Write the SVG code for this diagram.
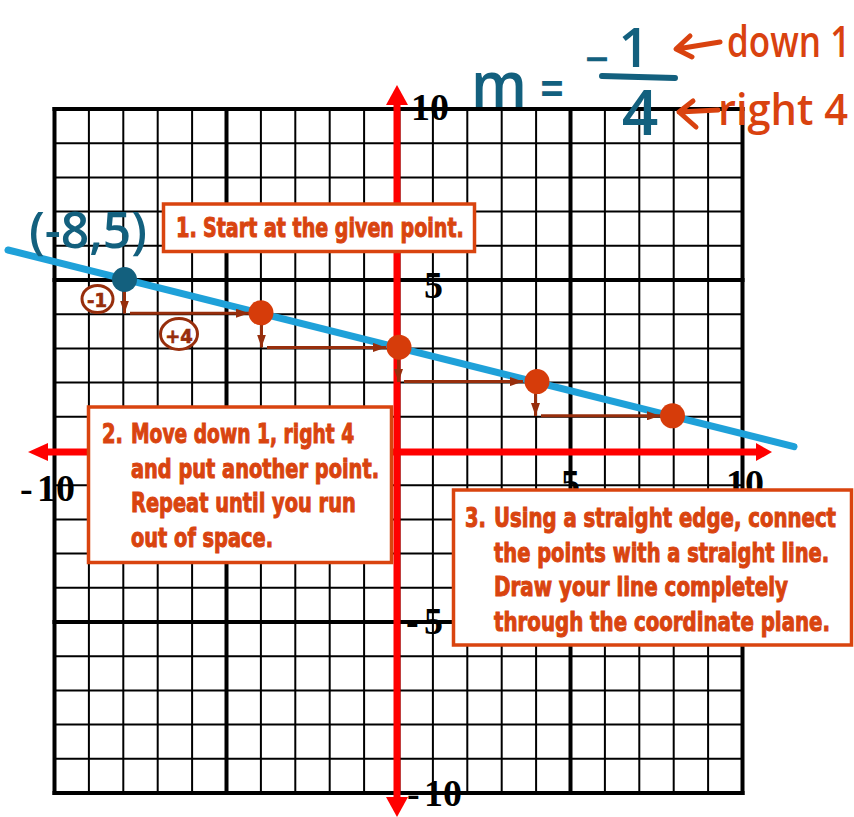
<svg xmlns="http://www.w3.org/2000/svg" width="854" height="817" viewBox="0 0 854 817">
<defs>
<style>
.thin{stroke:#000;stroke-width:2}
.thick{stroke:#000;stroke-width:4}
.ax{stroke:#ff0000;stroke-width:7;fill:none}
.axh{fill:#ff0000}
.num{font-family:"Liberation Serif","Times New Roman",serif;font-weight:bold;font-size:38px;fill:#000}
.step{stroke:#972e0c;stroke-width:3;fill:none}
.lbl{fill:#fff;stroke:#972e0c;stroke-width:3}
.lbltxt{font-family:"DejaVu Sans Condensed","DejaVu Sans",sans-serif;font-weight:bold;font-size:20px;fill:#972e0c;stroke:#972e0c;stroke-width:0.6;text-anchor:middle}
.pt{fill:#d63c0a}
.box{fill:#fff;stroke:#d9440f;stroke-width:3.5}
.bt{font-family:"DejaVu Sans Condensed","DejaVu Sans",sans-serif;font-weight:bold;font-size:27px;fill:#d9440f;stroke:#d9440f;stroke-width:1}
.hb{font-family:"Open Sans","Noto Sans",sans-serif;font-weight:600;fill:#13607e}
.ho{font-family:"Open Sans","Noto Sans",sans-serif;font-weight:600;fill:#d9420f}
</style>
<marker id="ah" viewBox="0 0 13 9" refX="13" refY="4.5" markerWidth="13" markerHeight="9" markerUnits="userSpaceOnUse" orient="auto">
<path d="M0,0 L13,4.5 L0,9 z" fill="#972e0c"/>
</marker>
</defs>
<rect width="854" height="817" fill="#fff"/>

<g id="grid">
<g class="thin">
<line x1="88.9" y1="107" x2="88.9" y2="793"/><line x1="123.3" y1="107" x2="123.3" y2="793"/><line x1="157.7" y1="107" x2="157.7" y2="793"/><line x1="192.1" y1="107" x2="192.1" y2="793"/>
<line x1="260.9" y1="107" x2="260.9" y2="793"/><line x1="295.3" y1="107" x2="295.3" y2="793"/><line x1="329.7" y1="107" x2="329.7" y2="793"/><line x1="364.1" y1="107" x2="364.1" y2="793"/>
<line x1="432.9" y1="107" x2="432.9" y2="793"/><line x1="467.3" y1="107" x2="467.3" y2="793"/><line x1="501.7" y1="107" x2="501.7" y2="793"/><line x1="536.1" y1="107" x2="536.1" y2="793"/>
<line x1="604.9" y1="107" x2="604.9" y2="793"/><line x1="639.3" y1="107" x2="639.3" y2="793"/><line x1="673.7" y1="107" x2="673.7" y2="793"/><line x1="708.1" y1="107" x2="708.1" y2="793"/>
<line x1="54.5" y1="143.2" x2="742.5" y2="143.2"/><line x1="54.5" y1="177.4" x2="742.5" y2="177.4"/><line x1="54.5" y1="211.6" x2="742.5" y2="211.6"/><line x1="54.5" y1="245.8" x2="742.5" y2="245.8"/>
<line x1="54.5" y1="314.2" x2="742.5" y2="314.2"/><line x1="54.5" y1="348.4" x2="742.5" y2="348.4"/><line x1="54.5" y1="382.6" x2="742.5" y2="382.6"/><line x1="54.5" y1="416.8" x2="742.5" y2="416.8"/>
<line x1="54.5" y1="485.2" x2="742.5" y2="485.2"/><line x1="54.5" y1="519.4" x2="742.5" y2="519.4"/><line x1="54.5" y1="553.6" x2="742.5" y2="553.6"/><line x1="54.5" y1="587.8" x2="742.5" y2="587.8"/>
<line x1="54.5" y1="656.2" x2="742.5" y2="656.2"/><line x1="54.5" y1="690.4" x2="742.5" y2="690.4"/><line x1="54.5" y1="724.6" x2="742.5" y2="724.6"/><line x1="54.5" y1="758.8" x2="742.5" y2="758.8"/>
</g>
<g class="thick">
<line x1="54.5" y1="107" x2="54.5" y2="795"/><line x1="226.5" y1="107" x2="226.5" y2="795"/><line x1="398.5" y1="107" x2="398.5" y2="795"/><line x1="570.5" y1="107" x2="570.5" y2="795"/><line x1="742.5" y1="107" x2="742.5" y2="795"/>
<line x1="52.5" y1="109" x2="744.5" y2="109"/><line x1="52.5" y1="280" x2="744.5" y2="280"/><line x1="52.5" y1="451" x2="744.5" y2="451"/><line x1="52.5" y1="622" x2="744.5" y2="622"/><line x1="52.5" y1="793" x2="744.5" y2="793"/>
</g>
</g>

<g id="axes">
<line class="ax" x1="397" y1="100" x2="397" y2="800"/>
<path class="axh" d="M397,85 L408,105 L386,105 z"/>
<path class="axh" d="M397,817 L408,797 L386,797 z"/>
<line class="ax" x1="44" y1="452" x2="760" y2="452"/>
<path class="axh" d="M28,452 L48,443 L48,461 z"/>
<path class="axh" d="M772,452 L756,443 L756,461 z"/>
</g>

<g id="axis-labels">
<text class="num" x="411" y="120">10</text>
<text class="num" x="424" y="298">5</text>
<text class="num"><tspan x="20" y="501">-</tspan><tspan x="37">10</tspan></text>
<text class="num" x="561" y="496">5</text>
<text class="num" x="726" y="496">10</text>
<text class="num"><tspan x="406" y="634">-</tspan><tspan x="424">5</tspan></text>
<text class="num"><tspan x="407" y="806">-</tspan><tspan x="424">10</tspan></text>
</g>

<g id="line">
<line x1="8" y1="250" x2="794" y2="446.7" stroke="#1fa1d9" stroke-width="7" stroke-linecap="round"/>
</g>

<g id="connectors">
<line class="step" x1="124.5" y1="291" x2="124.5" y2="313.5" marker-end="url(#ah)"/>
<line class="step" x1="130" y1="313.2" x2="249" y2="313.2" marker-end="url(#ah)"/>
<line class="step" x1="261.5" y1="325" x2="261.5" y2="347.5" marker-end="url(#ah)"/>
<line class="step" x1="267" y1="347.4" x2="386" y2="347.4" marker-end="url(#ah)"/>
<line class="step" x1="398.5" y1="359" x2="398.5" y2="382" marker-end="url(#ah)"/>
<line class="step" x1="404" y1="381.6" x2="523" y2="381.6" marker-end="url(#ah)"/>
<line class="step" x1="535.5" y1="393.5" x2="535.5" y2="416" marker-end="url(#ah)"/>
<line class="step" x1="541" y1="415.8" x2="660" y2="415.8" marker-end="url(#ah)"/>
</g>

<g id="step-labels">
<g id="label-minus1"><ellipse class="lbl" cx="97.5" cy="299" rx="15.5" ry="13.5"/><text class="lbltxt" x="97" y="306.5">-1</text></g>
<g id="label-plus4"><ellipse class="lbl" cx="179" cy="334" rx="18.5" ry="15.5"/><text class="lbltxt" x="179" y="343">+4</text></g>
</g>

<g id="points">
<circle id="p0" cx="124.5" cy="279.5" r="12.5" fill="#13607e"/>
<circle id="p1" class="pt" cx="261" cy="312.8" r="12.5"/>
<circle id="p2" class="pt" cx="399" cy="347.2" r="12.5"/>
<circle id="p3" class="pt" cx="537" cy="381.6" r="12.5"/>
<circle id="p4" class="pt" cx="672.5" cy="415.8" r="12.5"/>
</g>

<g id="box1">
<rect class="box" x="163.5" y="204" width="311" height="47.5"/>
<text class="bt" transform="translate(176,237) scale(0.8,1)">1.</text>
<text class="bt" transform="translate(203,237) scale(0.8,1)" textLength="326" lengthAdjust="spacingAndGlyphs">Start at the given point.</text>
</g>

<g id="box2">
<rect class="box" x="88.5" y="407" width="303" height="155.5"/>
<text class="bt" transform="translate(102,443) scale(0.8,1)">2.</text>
<text class="bt" transform="translate(131,443) scale(0.8,1)" textLength="279" lengthAdjust="spacingAndGlyphs">Move down 1, right 4</text>
<text class="bt" transform="translate(131,477.5) scale(0.8,1)" textLength="310" lengthAdjust="spacingAndGlyphs">and put another point.</text>
<text class="bt" transform="translate(131,512) scale(0.8,1)" textLength="281" lengthAdjust="spacingAndGlyphs">Repeat until you run</text>
<text class="bt" transform="translate(131,546.5) scale(0.8,1)" textLength="177.5" lengthAdjust="spacingAndGlyphs">out of space.</text>
</g>

<g id="box3">
<rect class="box" x="453.5" y="490" width="398" height="155"/>
<text class="bt" transform="translate(465,527) scale(0.8,1)">3.</text>
<text class="bt" transform="translate(494,527) scale(0.8,1)" textLength="427.5" lengthAdjust="spacingAndGlyphs">Using a straight edge, connect</text>
<text class="bt" transform="translate(494,561.5) scale(0.8,1)" textLength="419" lengthAdjust="spacingAndGlyphs">the points with a straight line.</text>
<text class="bt" transform="translate(494,596) scale(0.8,1)" textLength="367.5" lengthAdjust="spacingAndGlyphs">Draw your line completely</text>
<text class="bt" transform="translate(494,630.5) scale(0.8,1)" textLength="420" lengthAdjust="spacingAndGlyphs">through the coordinate plane.</text>
</g>

<g id="point-label">
<text class="hb" x="29" y="248" font-size="50" font-weight="700" textLength="118" lengthAdjust="spacingAndGlyphs">(-8,5)</text>
</g>

<g id="slope">
<text class="hb" x="471" y="107" font-size="64" textLength="56" lengthAdjust="spacingAndGlyphs">m</text>
<text class="hb" x="540" y="108" font-size="54" textLength="24" lengthAdjust="spacingAndGlyphs">=</text>
<text class="hb" x="585" y="75" font-size="44" textLength="24" lengthAdjust="spacingAndGlyphs">−</text>
<text class="hb" x="634" y="67" font-size="54" text-anchor="middle">1</text>
<line x1="602" y1="76" x2="675" y2="78" stroke="#13607e" stroke-width="6" stroke-linecap="round"/>
<text class="hb" x="640" y="135" font-size="64" text-anchor="middle">4</text>
</g>

<g id="slope-notes">
<path d="M720,42 L677,49 M690,36 L676,49 L692,57" fill="none" stroke="#d9420f" stroke-width="5" stroke-linecap="round" stroke-linejoin="round"/>
<text class="ho" transform="translate(727,57) scale(0.8,1)" font-size="44" textLength="154" lengthAdjust="spacingAndGlyphs">down 1</text>
<path d="M718,110 L679,112 M693,101 L679,112 L696,127" fill="none" stroke="#d9420f" stroke-width="5" stroke-linecap="round" stroke-linejoin="round"/>
<text class="ho" transform="translate(718,125) scale(0.85,1)" font-size="44" textLength="153" lengthAdjust="spacingAndGlyphs">right 4</text>
</g>
</svg>
